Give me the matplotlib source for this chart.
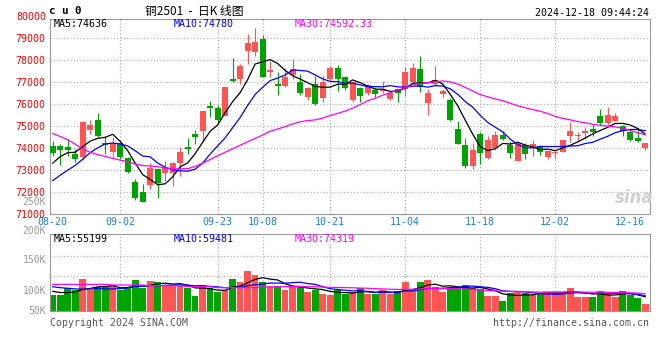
import matplotlib
matplotlib.use("Agg")
import matplotlib.pyplot as plt
import numpy as np

# daily K for cu2501, 2024-08-20 .. 2024-12-18 (80 trading days)
opens = [74100, 74100, 74050, 73730, 73560, 74820, 75270, 74240, 73810, 74240,
         73520, 72430, 71990, 72310, 73020, 72850, 72860, 73300, 74040, 74620,
         74780, 75910, 75810, 75470, 77140, 77170, 78440, 78360, 78970, 77480,
         76910, 76840, 77330, 76990, 76310, 76910, 76290, 77170, 77630, 77220,
         76200, 76720, 76500, 76660, 76610, 76230, 76690, 76690, 77020, 77600,
         76050, 76910, 76460, 76180, 74860, 74130, 73160, 74630, 73550, 73980,
         74590, 74130, 73410, 74130, 73980, 74070, 73570, 73750, 73830, 74530,
         74530, 74660, 74860, 75440, 75130, 75240, 74980, 74710, 74450, 73990]
highs = [74300, 74180, 74400, 73950, 75240, 75270, 75580, 74520, 74500, 74270,
         73600, 72560, 72370, 73330, 73070, 73380, 73340, 74050, 74470, 74820,
         75700, 76140, 75960, 76780, 78130, 77830, 79200, 79460, 79150, 77980,
         77450, 77630, 78060, 77370, 76760, 77300, 77300, 77750, 77780, 77300,
         77070, 76760, 76910, 76720, 77070, 76610, 76700, 77710, 77870, 78180,
         76690, 77750, 76690, 76290, 75240, 74450, 74220, 74710, 74530, 74770,
         74790, 74250, 74250, 74220, 74370, 74130, 73920, 73870, 74380, 75160,
         74740, 74940, 75040, 75770, 75850, 75580, 75040, 74860, 74890, 74230]
lows = [73640, 73230, 73610, 73370, 73430, 74620, 74510, 73710, 73560, 73470,
        72830, 71620, 71530, 72100, 71690, 72480, 72260, 72730, 73710, 74170,
        74330, 75390, 75090, 75450, 76990, 76910, 77830, 78210, 77260, 77220,
        76410, 76760, 77170, 76410, 76200, 75960, 76110, 77070, 76610, 76660,
        76080, 76110, 76410, 76340, 76530, 76200, 76110, 76350, 76910, 76560,
        75500, 76840, 76340, 75240, 74170, 73080, 73030, 73260, 73490, 73920,
        74370, 73520, 73410, 73490, 73640, 73690, 73490, 73490, 73790, 74280,
        74250, 74400, 74560, 75040, 75040, 75240, 74530, 74330, 74280, 73920]
closes = [73760, 73920, 73920, 73490, 75180, 75030, 74550, 74150, 74200, 73560,
          72900, 71690, 71530, 73080, 72380, 73100, 73290, 73830, 73970, 74500,
          75690, 75810, 75280, 76760, 77050, 77750, 78790, 78820, 77260, 77550,
          76840, 77220, 77600, 76500, 76730, 76000, 77020, 77630, 77170, 76720,
          76990, 76390, 76870, 76460, 76690, 76500, 76500, 77450, 77630, 76760,
          76500, 77100, 76610, 75270, 74170, 73190, 73900, 73760, 74360, 74590,
          74400, 73760, 74170, 73720, 74170, 73790, 73870, 73800, 74360, 74770,
          74560, 74770, 74740, 75130, 75500, 75440, 74780, 74370, 74330, 74220]

ma5 = [73300, 73600, 73780, 73800, 74054, 74308, 74434, 74480, 74622, 74298,
       73872, 73300, 72776, 72552, 72316, 72356, 72676, 73136, 73314, 73738,
       74256, 74760, 75050, 75608, 76118, 76530, 77126, 77834, 77934, 78034,
       77852, 77538, 77294, 77142, 76978, 76810, 76770, 76776, 76910, 76908,
       77106, 76980, 76828, 76686, 76680, 76582, 76604, 76720, 76954, 76968,
       76968, 77088, 76920, 76448, 75930, 75268, 74628, 74058, 73876, 73960,
       74202, 74174, 74256, 74128, 74044, 73922, 73944, 73870, 73998, 74118,
       74272, 74452, 74640, 74794, 74940, 75116, 75118, 75044, 74884, 74628]
ma10 = [72500, 72750, 72980, 73200, 73480, 73780, 74000, 74180, 74220, 74176,
        74090, 73867, 73628, 73587, 73307, 73114, 72988, 72956, 72933, 73027,
        73306, 73718, 74093, 74461, 74928, 75393, 75943, 76442, 76771, 77076,
        77191, 77332, 77564, 77538, 77506, 77331, 77154, 77035, 77026, 76943,
        76958, 76875, 76802, 76798, 76794, 76844, 76792, 76774, 76820, 76824,
        76775, 76846, 76820, 76701, 76449, 76118, 75858, 75489, 75162, 74945,
        74735, 74401, 74157, 74002, 74002, 74062, 74059, 74063, 74063, 74081,
        74097, 74198, 74255, 74396, 74529, 74694, 74785, 74842, 74839, 74784]
ma30 = [74660, 74520, 74370, 74170, 73950, 73800, 73690, 73610, 73520, 73440,
        73370, 73260, 73190, 73170, 73140, 73080, 73050, 73040, 73050, 73150,
        73300, 73470, 73640, 73800, 73960, 74120, 74280, 74430, 74590, 74760,
        74862, 74972, 75095, 75195, 75247, 75279, 75362, 75478, 75577, 75682,
        75818, 75975, 76153, 76266, 76409, 76523, 76630, 76750, 76872, 76948,
        76975, 77018, 77062, 77012, 76916, 76764, 76601, 76433, 76336, 76237,
        76156, 76041, 75926, 75834, 75748, 75675, 75570, 75442, 75348, 75283,
        75202, 75148, 75077, 75033, 74993, 74958, 74901, 74798, 74688, 74603]

# volume, in K as drawn against the panel's labels
vols = [93.0, 93.0, 103.9, 101.1, 119.2, 101.1, 106.1, 106.1, 109.3, 101.1,
        103.9, 117.5, 105.0, 115.9, 114.3, 109.3, 109.3, 109.3, 103.9, 91.3,
        107.7, 103.9, 98.4, 101.1, 119.2, 114.3, 132.8, 125.7, 114.3, 107.7,
        107.7, 101.1, 107.7, 107.7, 97.8, 101.1, 94.6, 93.0, 101.1, 94.6,
        97.8, 103.9, 94.6, 94.6, 101.1, 94.6, 99.5, 114.3, 101.1, 114.3,
        117.5, 106.1, 97.9, 104.4, 106.1, 109.3, 104.4, 102.8, 91.9, 91.9,
        83.1, 96.2, 97.9, 96.2, 93.0, 94.6, 97.9, 97.9, 97.9, 105.0,
        90.2, 90.2, 90.2, 99.5, 94.6, 90.2, 99.5, 93.0, 88.6, 78.7]
vma5 = [99.0, 97.0, 97.0, 98.0, 102.0, 103.7, 106.3, 106.7, 108.4, 104.7,
        105.3, 107.6, 107.4, 108.7, 111.3, 112.4, 110.8, 111.6, 109.2, 104.6,
        104.3, 103.2, 101.0, 100.5, 106.1, 107.4, 113.2, 118.6, 121.3, 119.0,
        117.6, 111.3, 107.7, 106.4, 104.4, 103.1, 101.8, 98.8, 97.5, 96.9,
        96.2, 98.1, 98.4, 97.1, 98.4, 97.8, 96.9, 100.8, 102.1, 104.8,
        109.3, 110.7, 107.4, 108.0, 106.4, 104.8, 104.4, 105.4, 102.9, 100.1,
        94.8, 93.2, 92.2, 93.1, 93.3, 95.6, 95.9, 95.9, 96.3, 98.7,
        97.8, 96.2, 94.7, 95.0, 92.9, 92.9, 94.8, 95.4, 93.2, 90.0]
vma10 = [106.5, 105.0, 104.0, 103.0, 102.5, 102.8, 103.5, 103.0, 102.8, 103.4,
         104.5, 107.0, 107.1, 108.6, 108.0, 108.9, 109.2, 109.5, 109.0, 108.0,
         108.4, 107.0, 106.3, 104.9, 105.4, 105.9, 108.2, 109.8, 110.9, 112.6,
         112.5, 112.3, 113.2, 113.9, 111.7, 110.4, 106.6, 103.3, 102.0, 100.7,
         99.7, 100.0, 98.6, 97.3, 97.7, 97.0, 97.5, 99.6, 99.6, 101.6,
         103.6, 103.8, 104.1, 105.1, 105.6, 107.1, 107.6, 106.4, 105.5, 103.3,
         99.8, 98.8, 98.8, 98.0, 96.7, 95.2, 94.6, 94.1, 94.7, 96.0,
         96.7, 96.1, 95.3, 95.7, 95.8, 95.4, 95.5, 95.1, 94.1, 91.5]
vma30 = [110.4, 110.4, 110.4, 110.4, 110.4, 110.4, 110.4, 110.4, 109.3, 109.3,
         109.3, 109.3, 109.3, 108.3, 108.3, 108.3, 108.3, 108.3, 106.5, 106.5,
         106.5, 106.5, 105.0, 105.0, 105.0, 105.0, 105.0, 105.0, 106.0, 106.0,
         106.4, 106.7, 106.8, 107.1, 106.4, 106.4, 106.0, 105.5, 105.3, 105.0,
         104.8, 104.4, 104.0, 103.3, 102.9, 102.4, 102.1, 102.2, 102.1, 102.9,
         103.2, 103.3, 103.3, 103.4, 103.0, 102.8, 101.9, 101.1, 100.3, 99.8,
         99.0, 98.8, 98.5, 98.1, 98.0, 97.7, 97.9, 98.0, 97.9, 98.3,
         98.0, 97.6, 97.4, 97.6, 97.4, 97.2, 97.2, 96.5, 96.1, 94.9]

tick_idx = [0, 9, 22, 28, 37, 47, 57, 67, 77]
tick_labels = ["08-20", "09-02", "09-23", "10-08", "10-21", "11-04", "11-18", "12-02", "12-16"]

RED = "#ff5454"
GREEN = "#00a400"
BLUE = "#0000ff"
MAG = "#ff00ff"
XBLUE = "#1a80d8"
GRID = "#a8a8a8"
MONO = "DejaVu Sans Mono"
W, H = 660, 360

fig = plt.figure(figsize=(6.6, 3.6), dpi=100)
ax = fig.add_axes([50 / W, 1 - 213.5 / H, 600 / W, (213.5 - 19) / H])
axv = fig.add_axes([50 / W, 1 - 311 / H, 600 / W, (311 - 234.3) / H])

o = np.array(opens); c = np.array(closes)
x = np.arange(len(c))
cols = np.where(c >= o, RED, GREEN)

# candles
ax.vlines(x, lows, highs, colors=cols, linewidth=0.8, zorder=3)
ax.bar(x, np.maximum(np.abs(c - o), 45), bottom=np.minimum(o, c), width=0.8,
       color=cols, linewidth=0, zorder=3)
ax.plot(np.arange(len(ma5)), ma5, color="black", lw=0.9, zorder=4)
ax.plot(np.arange(len(ma10)), ma10, color=BLUE, lw=0.9, zorder=4)
ax.plot(np.arange(len(ma30)), ma30, color=MAG, lw=0.9, zorder=4)

ax.set_xlim(-0.36, 79.64)
ax.set_ylim(71000, 79890)
for v in range(72000, 80000, 1000):
    ax.axhline(v, color=GRID, lw=0.8, ls=(0, (1, 2)), zorder=1)
for i in tick_idx[1:-1]:
    ax.axvline(i, color=GRID, lw=0.8, ls=(0, (1, 2)), zorder=1)
    axv.axvline(i, color=GRID, lw=0.8, ls=(0, (1, 2)), zorder=1)

ax.set_yticks(range(71000, 80000, 1000))
ax.set_yticklabels([str(v) for v in range(71000, 80000, 1000)], color="red",
                   fontsize=7.2, family=MONO)
ax.set_xticks(tick_idx)
ax.set_xticklabels(tick_labels, color=XBLUE, fontsize=7.2, family=MONO)
ax.tick_params(axis="y", length=0, pad=3)
ax.tick_params(axis="x", length=0, pad=2.5)
ax.text(-4 / 600, 80000, "80000", transform=ax.get_yaxis_transform(), ha="right",
        va="center", color="red", fontsize=7.2, family=MONO, clip_on=False)

# volume
axv.bar(x, vols, width=0.88, color=cols, linewidth=0, zorder=2)
axv.plot(np.arange(len(vma5)), vma5, color="black", lw=0.9, zorder=3)
axv.plot(np.arange(len(vma10)), vma10, color=BLUE, lw=0.9, zorder=3)
axv.plot(np.arange(len(vma30)), vma30, color=MAG, lw=0.9, zorder=3)
axv.set_xlim(-0.36, 79.64)
axv.set_ylim(66.7, 192.5)
for v in [157.4, 124.6]:
    axv.axhline(v, color=GRID, lw=0.8, ls=(0, (1, 2)), zorder=1)
axv.set_xticks([]); axv.set_yticks([])
for val, lab in [(245.4, "250K"), (197.9, "200K"), (150.3, "150K"), (100, "100K"), (66.7, "50K")]:
    axv.text(-4 / 600, val, lab, transform=axv.get_yaxis_transform(), ha="right",
             va="center", color="#999999", fontsize=7.0, family=MONO, clip_on=False)

for a in (ax, axv):
    for s in a.spines.values():
        s.set_color("#999999")
        s.set_linewidth(0.8)

# header / footer texts
def ftext(px, py, s, **kw):
    fig.text(px / W, 1 - py / H, s, va="center", **kw)

ftext(49, 11.5, "c u 0", fontsize=7.8, family=MONO, fontweight="bold")
ftext(194, 11, "铜2501  -  日K 线图", ha="center", fontsize=8.5,
      family=["Noto Sans CJK SC", "DejaVu Sans"])
ftext(649, 12.5, "2024-12-18 09:44:24", ha="right", fontsize=7.2, family=MONO)
ftext(54, 24, "MA5:74636", color="black", fontsize=7.2, family=MONO)
ftext(174, 24, "MA10:74780", color=BLUE, fontsize=7.2, family=MONO)
ftext(295, 24, "MA30:74592.33", color=MAG, fontsize=7.2, family=MONO)
ftext(54, 238.5, "MA5:55199", color="black", fontsize=7.2, family=MONO)
ftext(174, 238.5, "MA10:59481", color=BLUE, fontsize=7.2, family=MONO)
ftext(295, 238.5, "MA30:74319", color=MAG, fontsize=7.2, family=MONO)
ftext(50, 323, "Copyright 2024 SINA.COM", color="#555555", fontsize=7.1, family=MONO)
ftext(649, 323, "http://finance.sina.com.cn", ha="right", color="#555555",
      fontsize=7.1, family=MONO)
ftext(634, 198, "sina", ha="center", color="#d0d0d0", fontsize=12,
      fontweight="bold", fontstyle="italic")

fig.savefig("out.png", dpi=100, facecolor="white")
